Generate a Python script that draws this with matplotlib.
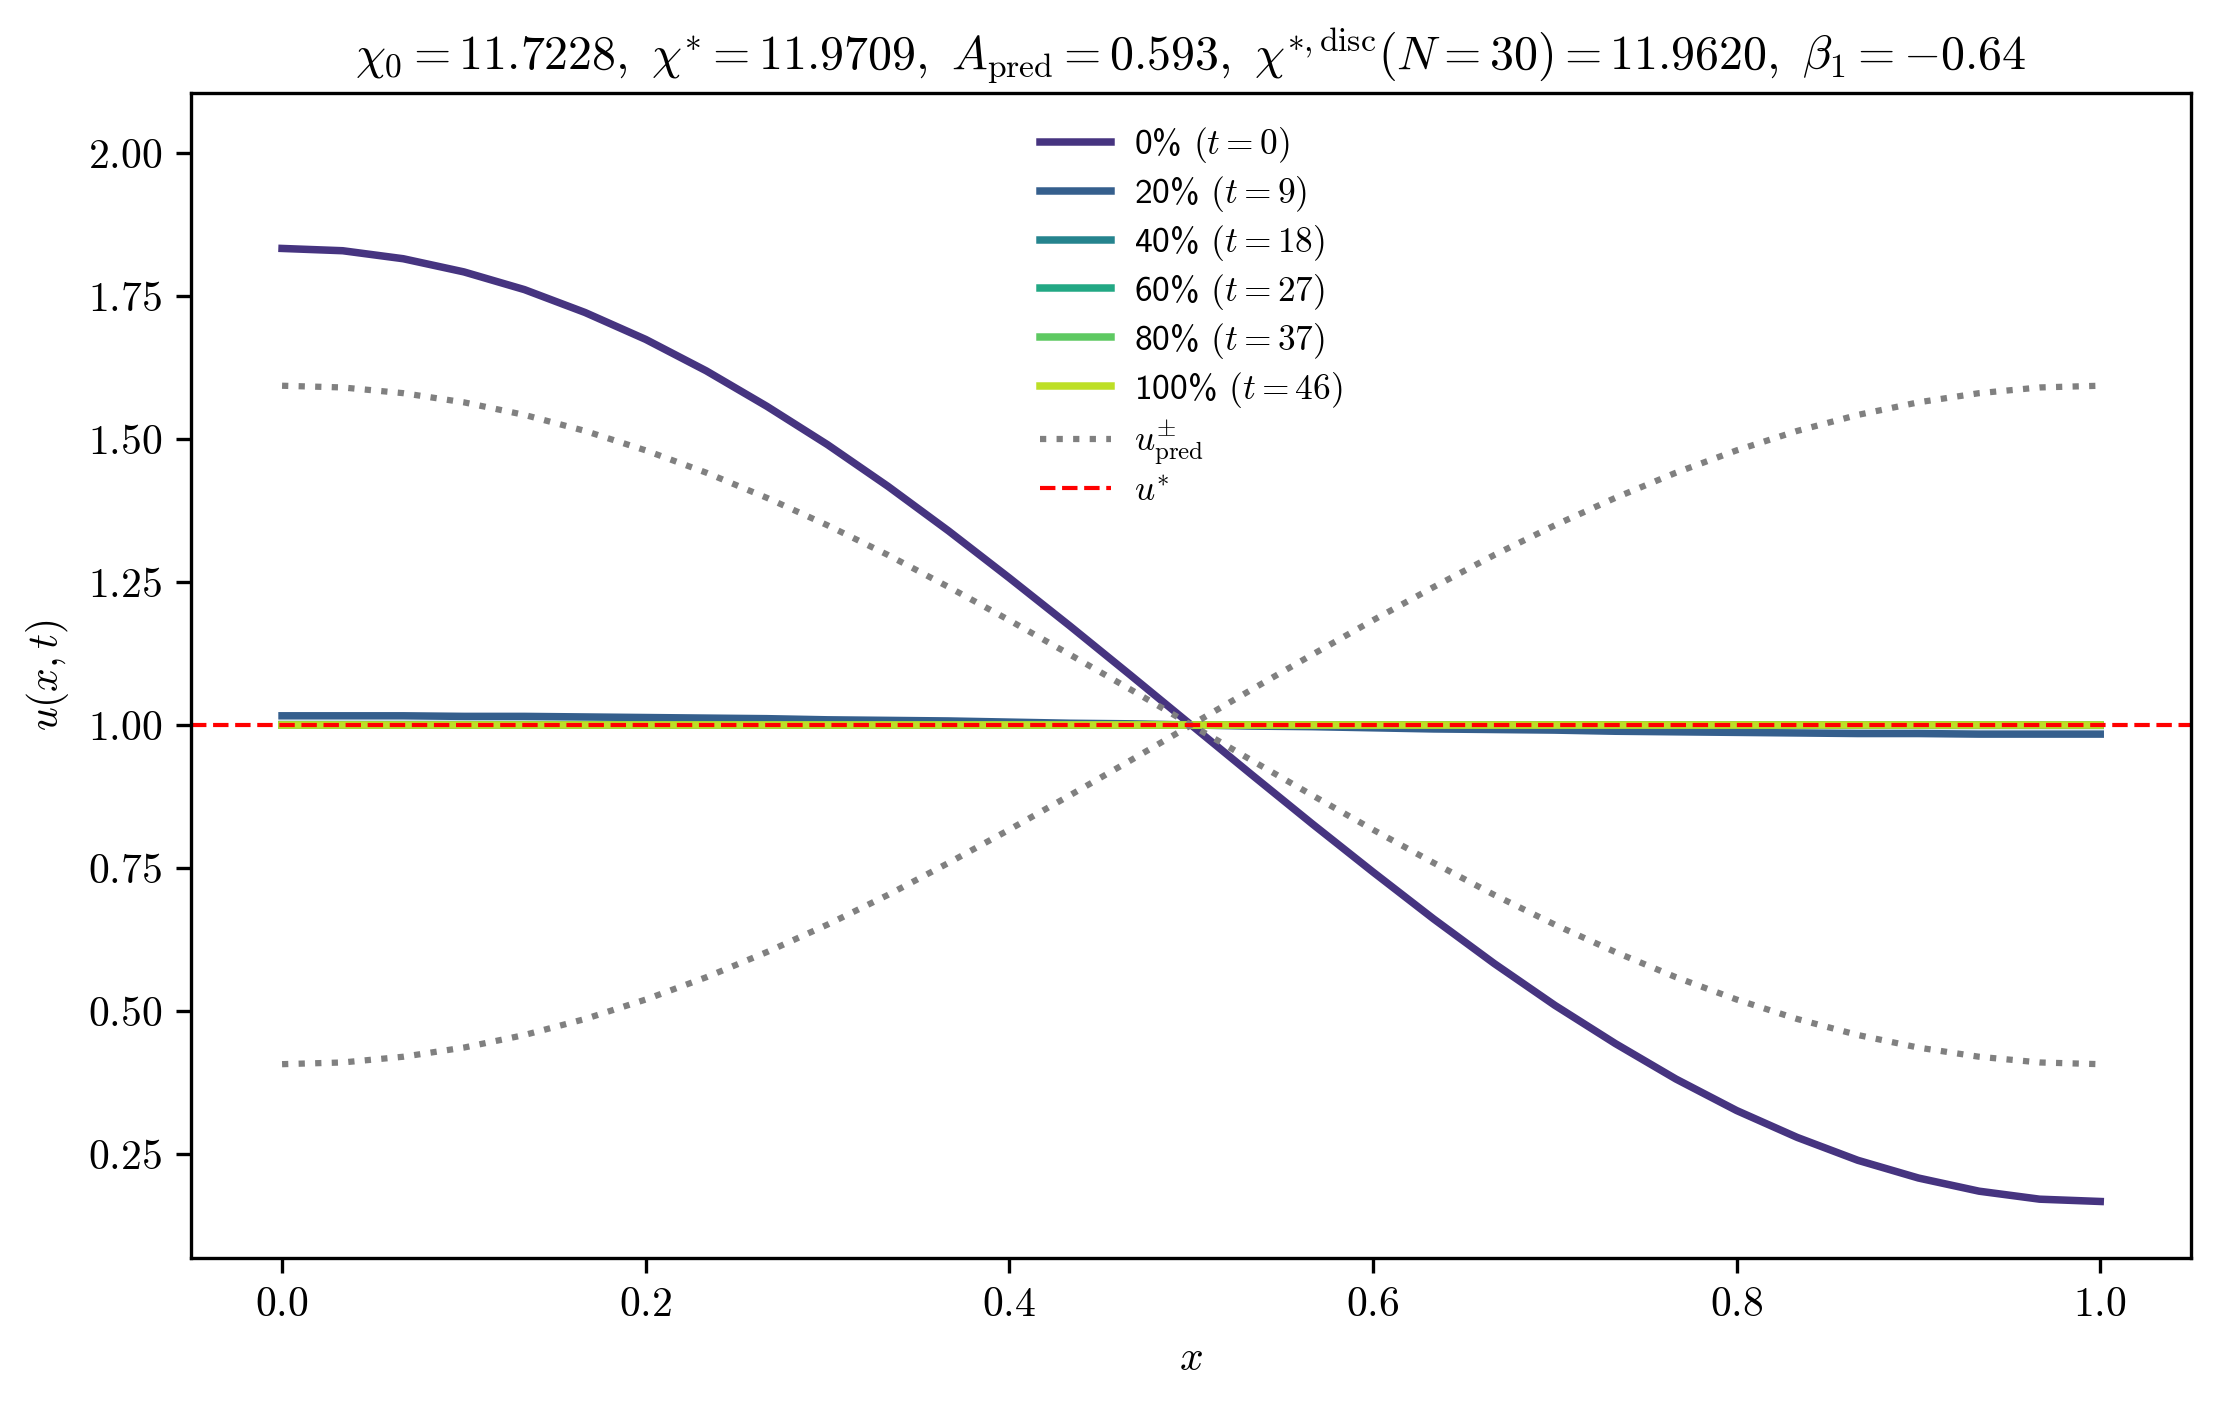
import numpy as np
import matplotlib
matplotlib.use("Agg")
import matplotlib.pyplot as plt

plt.rcParams['mathtext.fontset'] = 'cm'
plt.rcParams['font.family'] = 'serif'
plt.rcParams['font.serif'] = ['cmr10']
plt.rcParams['axes.formatter.use_mathtext'] = True

# grid x = 0 .. 1, N = 30
x = np.linspace(0.0, 1.0, 31)

u_t0 = [1.833, 1.829, 1.815, 1.792, 1.761, 1.721, 1.674, 1.619, 1.557, 1.490,
        1.417, 1.339, 1.257, 1.173, 1.087, 1.000, 0.913, 0.827, 0.743, 0.661,
        0.583, 0.510, 0.443, 0.381, 0.326, 0.279, 0.239, 0.208, 0.185, 0.171, 0.167]
u_t9 = [1.016, 1.016, 1.016, 1.015, 1.015, 1.014, 1.013, 1.012, 1.011, 1.009,
        1.008, 1.007, 1.005, 1.003, 1.002, 1.000, 0.998, 0.997, 0.995, 0.993,
        0.992, 0.991, 0.989, 0.988, 0.987, 0.986, 0.985, 0.985, 0.984, 0.984, 0.984]
u_t18 = [1.0008, 1.0008, 1.0008, 1.0008, 1.0008, 1.0007, 1.0006, 1.0006, 1.0005, 1.0005,
         1.0004, 1.0003, 1.0002, 1.0002, 1.0001, 1.0000, 0.9999, 0.9998, 0.9998, 0.9997,
         0.9996, 0.9995, 0.9995, 0.9994, 0.9994, 0.9993, 0.9992, 0.9992, 0.9992, 0.9992, 0.9992]
u_t27 = [1.0] * 31
u_t37 = [1.0] * 31
u_t46 = [1.0] * 31

u_pred_plus = [1.593, 1.590, 1.580, 1.564, 1.542, 1.514, 1.480, 1.441, 1.397, 1.349,
               1.297, 1.241, 1.183, 1.123, 1.062, 1.000, 0.938, 0.877, 0.817, 0.759,
               0.703, 0.651, 0.603, 0.559, 0.520, 0.486, 0.458, 0.436, 0.420, 0.410, 0.407]
u_pred_minus = u_pred_plus[::-1]
u_star = 1.0

snap_pct = [0, 20, 40, 60, 80, 100]
snap_t = [0, 9, 18, 27, 37, 46]
snaps = [u_t0, u_t9, u_t18, u_t27, u_t37, u_t46]

fig = plt.figure(figsize=(7.4, 1409 / 300))
ax = fig.add_axes([0.0861, 0.1075, 0.9009, 0.8262])

colors = plt.cm.viridis(np.linspace(0.15, 0.9, len(snaps)))
for u, p, t, c in zip(snaps, snap_pct, snap_t, colors):
    ax.plot(x, u, color=c, lw=1.8, label=f"{p}% $(t={t})$")

ax.plot(x, u_pred_plus, ':', color='gray', lw=1.5, label=r"$u_{\mathrm{pred}}^{\pm}$")
ax.plot(x, u_pred_minus, ':', color='gray', lw=1.5)
ax.axhline(u_star, color='red', ls='--', lw=1.0, label=r"$u^{*}$")

ax.set_xlim(-0.05, 1.05)
ax.set_ylim(0.069, 2.104)
ax.tick_params(labelsize=10)
ax.set_xlabel(r"$x$", fontsize=10)
ax.set_ylabel(r"$u(x,t)$", fontsize=10)
ax.set_title(r"$\chi_0 = 11.7228,\ \chi^{*} = 11.9709,\ A_{\mathrm{pred}} = 0.593,\ "
             r"\chi^{*,\mathrm{disc}}(N=30) = 11.9620,\ \beta_1 = -0.64$", fontsize=11.5)
ax.legend(loc='upper center', frameon=False, labelspacing=0.25, handletextpad=0.65,
          prop={'family': 'cmss10', 'size': 8.5})

fig.savefig("out.png", dpi=300)
